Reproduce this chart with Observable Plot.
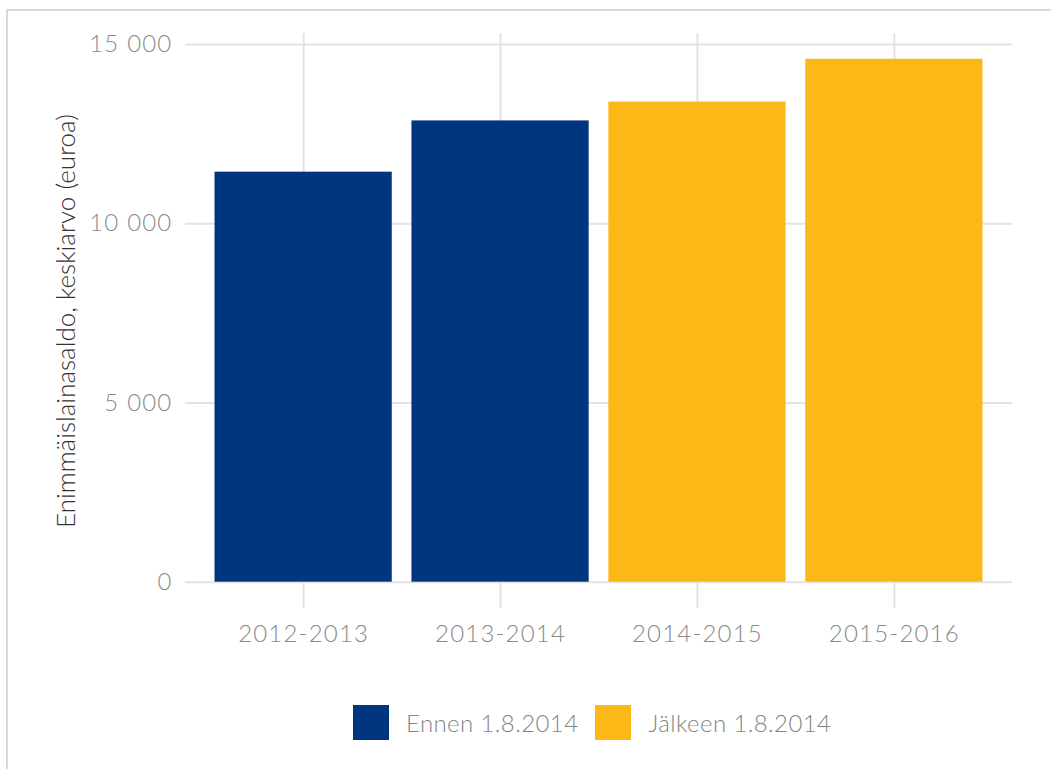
<!DOCTYPE html>
<html>
<head>
<meta charset="utf-8">
<script src="https://cdn.jsdelivr.net/npm/d3@7"></script>
<script src="https://cdn.jsdelivr.net/npm/@observablehq/plot@0.6"></script>
<style>
  html, body { margin: 0; padding: 0; background: #fff; }
  body { width: 1051px; height: 769px; position: relative; overflow: hidden; font-family: Lato, sans-serif; font-weight: 300; }
  #frame { position: absolute; left: 6px; top: 9px; width: 1100px; height: 820px; border: 2px solid #d9d9d9; box-sizing: border-box; }
  #chart { position: absolute; left: 0; top: 0; }
  #legend { position: absolute; top: 705px; left: 353px; display: flex; align-items: center; font-size: 24px; letter-spacing: 0.4px; color: #858585; }
  .sw { width: 36px; height: 35px; display: inline-block; }
  .lab { margin-left: 17px; margin-right: 17px; }
  .ytick text, .xtick text { letter-spacing: 1.2px; }
</style>
</head>
<body>
<div id="frame"></div>
<div id="chart"></div>
<div id="legend"></div>
<script>
const periods = ["2012-2013", "2013-2014", "2014-2015", "2015-2016"];
const values = [11440, 12870, 13395, 14590];
const groups = ["Ennen 1.8.2014", "Ennen 1.8.2014", "Jälkeen 1.8.2014", "Jälkeen 1.8.2014"];
const groupNames = ["Ennen 1.8.2014", "Jälkeen 1.8.2014"];
const groupColors = ["#00357f", "#fbb817"];
const yTicks = [0, 5000, 10000, 15000];
const yTitle = "Enimmäislainasaldo, keskiarvo (euroa)";

const data = periods.map((p, i) => ({period: p, value: values[i], group: groups[i]}));
const fmt = d => d3.format(",")(d).replace(/,/g, " ");

const chart = Plot.plot({
  width: 1051,
  height: 660,
  marginLeft: 185,
  marginRight: 39,
  marginTop: 33,
  marginBottom: 52,
  style: {fontFamily: "Lato, sans-serif", fontWeight: 300, background: "transparent"},
  x: {domain: periods, paddingInner: 0.1, paddingOuter: 0.15, round: false, label: null},
  y: {domain: [-734, 15309], label: null},
  color: {domain: groupNames, range: groupColors},
  marks: [
    Plot.gridY(yTicks, {stroke: "#e3e3e3", strokeOpacity: 1, strokeWidth: 2}),
    Plot.gridX(periods, {stroke: "#e3e3e3", strokeOpacity: 1, strokeWidth: 2}),
    Plot.barY(data, {x: "period", y: "value", fill: "group"}),
    Plot.axisY(yTicks, {tickSize: 0, tickPadding: 13, tickFormat: fmt, fontSize: 24, fill: "#8a8a8a", label: null, className: "ytick"}),
    Plot.axisX(periods, {tickSize: 0, tickPadding: 16, fontSize: 24, fill: "#8a8a8a", label: null, className: "xtick"}),
    Plot.text([yTitle], {frameAnchor: "left", textAnchor: "middle", dx: -119, rotate: -90, fontSize: 26, fill: "#333", fontWeight: 300})
  ]
});
document.getElementById("chart").appendChild(chart);

const legend = document.getElementById("legend");
groupNames.forEach((g, i) => {
  const s = document.createElement("span");
  s.className = "sw";
  s.style.background = groupColors[i];
  legend.appendChild(s);
  const t = document.createElement("span");
  t.className = "lab";
  t.textContent = g;
  legend.appendChild(t);
});
</script>
</body>
</html>
